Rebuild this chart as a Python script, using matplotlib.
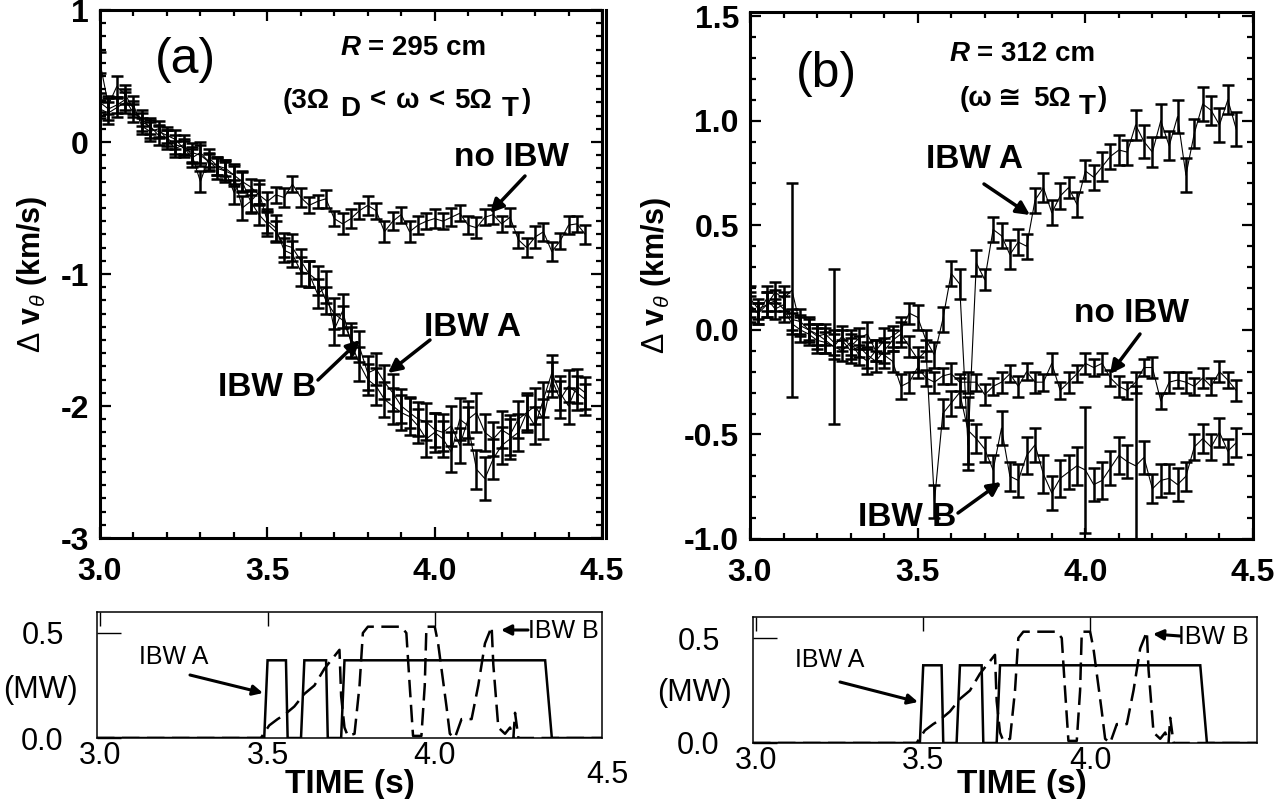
import matplotlib
matplotlib.use("Agg")
import matplotlib.pyplot as plt
import matplotlib.transforms as mtransforms
from matplotlib.ticker import MultipleLocator, FixedLocator

plt.rcParams['font.family'] = ['Liberation Sans', 'DejaVu Sans']
plt.rcParams['mathtext.fontset'] = 'custom'
plt.rcParams['mathtext.rm'] = 'Liberation Sans'
plt.rcParams['mathtext.bf'] = 'Liberation Sans:bold'
plt.rcParams['mathtext.it'] = 'Liberation Sans:italic'

# ---------------- data ----------------
time = [3.000, 3.025, 3.050, 3.075, 3.100, 3.125, 3.150, 3.175, 3.200, 3.225,
        3.250, 3.275, 3.300, 3.325, 3.350, 3.375, 3.400, 3.425, 3.450, 3.475,
        3.500, 3.525, 3.550, 3.575, 3.600, 3.625, 3.650, 3.675, 3.700, 3.725,
        3.750, 3.775, 3.800, 3.825, 3.850, 3.875, 3.900, 3.925, 3.950, 3.975,
        4.000, 4.025, 4.050, 4.075, 4.100, 4.125, 4.150, 4.175, 4.200, 4.225,
        4.250, 4.275, 4.300, 4.325, 4.350, 4.375, 4.400, 4.425, 4.450]

# panel (a)  R = 295 cm
a_noibw = [0.30, 0.25, 0.28, 0.32, 0.22, 0.18, 0.10, 0.08, 0.05, 0.02,
           -0.05, -0.08, -0.10, -0.15, -0.18, -0.20, -0.25, -0.30, -0.34, -0.40,
           -0.45, -0.40, -0.42, -0.32, -0.42, -0.48, -0.45, -0.43, -0.58, -0.62,
           -0.58, -0.52, -0.48, -0.52, -0.68, -0.60, -0.55, -0.68, -0.63, -0.60,
           -0.58, -0.60, -0.57, -0.54, -0.63, -0.65, -0.57, -0.55, -0.62, -0.57,
           -0.74, -0.80, -0.72, -0.68, -0.83, -0.75, -0.63, -0.62, -0.70]
a_noibw_err = [0.07, 0.08, 0.06, 0.08, 0.07, 0.06, 0.07, 0.05, 0.06, 0.07,
               0.06, 0.07, 0.08, 0.06, 0.07, 0.06, 0.08, 0.07, 0.06, 0.08,
               0.07, 0.06, 0.07, 0.06, 0.07, 0.06, 0.05, 0.07, 0.06, 0.08,
               0.07, 0.06, 0.07, 0.06, 0.08, 0.07, 0.06, 0.08, 0.07, 0.06,
               0.07, 0.06, 0.07, 0.06, 0.07, 0.08, 0.06, 0.07, 0.06, 0.07,
               0.06, 0.07, 0.08, 0.07, 0.07, 0.06, 0.07, 0.06, 0.07]
a_ibwA = [0.60, 0.28, 0.42, 0.36, 0.25, 0.15, 0.12, 0.05, 0.03, -0.02,
          -0.04, -0.12, -0.08, -0.15, -0.20, -0.22, -0.38, -0.30, -0.45, -0.55,
          -0.62, -0.68, -0.78, -0.80, -0.90, -1.00, -1.05, -1.20, -1.30, -1.35,
          -1.50, -1.55, -1.75, -1.72, -1.82, -1.90, -2.00, -2.05, -2.10, -2.12,
          -2.18, -2.20, -2.15, -2.30, -2.10, -2.05, -2.20, -2.25, -2.18, -2.22,
          -2.10, -2.05, -2.00, -2.10, -1.80, -1.95, -1.85, -1.90, -1.95]
a_ibwA_err = [0.08, 0.07, 0.08, 0.07, 0.06, 0.07, 0.06, 0.07, 0.06, 0.07,
              0.06, 0.07, 0.08, 0.07, 0.08, 0.07, 0.09, 0.08, 0.09, 0.08,
              0.09, 0.08, 0.09, 0.10, 0.09, 0.10, 0.11, 0.10, 0.12, 0.11,
              0.13, 0.12, 0.13, 0.12, 0.13, 0.14, 0.13, 0.12, 0.13, 0.14,
              0.13, 0.14, 0.15, 0.13, 0.14, 0.15, 0.14, 0.13, 0.14, 0.15,
              0.14, 0.13, 0.14, 0.15, 0.13, 0.14, 0.12, 0.13, 0.12]
a_ibwB = [0.25, 0.22, 0.26, 0.30, 0.28, 0.12, 0.08, 0.10, 0.02, -0.05,
          -0.02, -0.10, -0.30, -0.12, -0.18, -0.22, -0.25, -0.50, -0.45, -0.38,
          -0.60, -0.65, -0.82, -0.85, -0.98, -1.00, -1.15, -1.10, -1.42, -1.28,
          -1.52, -1.68, -1.80, -1.85, -1.95, -2.00, -2.05, -2.08, -2.15, -2.25,
          -2.20, -2.25, -2.35, -2.10, -2.15, -2.48, -2.55, -2.40, -2.30, -2.25,
          -2.20, -2.05, -2.15, -1.95, -1.75, -1.90, -2.00, -1.85, -1.90]
a_ibwB_err = [0.07, 0.08, 0.07, 0.08, 0.07, 0.06, 0.07, 0.06, 0.07, 0.06,
              0.07, 0.06, 0.08, 0.07, 0.07, 0.08, 0.07, 0.09, 0.08, 0.09,
              0.09, 0.10, 0.09, 0.10, 0.11, 0.10, 0.11, 0.12, 0.12, 0.13,
              0.12, 0.13, 0.12, 0.14, 0.13, 0.14, 0.13, 0.14, 0.13, 0.14,
              0.15, 0.14, 0.15, 0.16, 0.14, 0.15, 0.16, 0.15, 0.14, 0.15,
              0.14, 0.15, 0.14, 0.13, 0.14, 0.13, 0.14, 0.13, 0.12]

# panel (b)  R = 312 cm
b_noibw = [0.10, 0.08, 0.12, 0.14, 0.10, 0.03, 0.00, -0.02, -0.05, -0.06,
           -0.08, -0.10, -0.06, -0.12, -0.15, -0.10, -0.12, -0.15, -0.27, -0.25,
           -0.18, -0.23, -0.25, -0.22, -0.21, -0.25, -0.25, -0.25, -0.31, -0.27,
           -0.25, -0.21, -0.27, -0.20, -0.25, -0.25, -0.16, -0.29, -0.25, -0.21,
           -0.16, -0.18, -0.16, -0.23, -0.27, -0.29, -0.25, -0.18, -0.18, -0.34,
           -0.25, -0.24, -0.25, -0.27, -0.23, -0.27, -0.20, -0.24, -0.29]
b_noibw_err = [0.06, 0.05, 0.06, 0.05, 0.06, 0.05, 0.06, 0.05, 0.06, 0.05,
               0.06, 0.05, 0.06, 0.05, 0.06, 0.05, 0.06, 0.05, 0.06, 0.05,
               0.05, 0.04, 0.05, 0.04, 0.05, 0.04, 0.05, 0.04, 0.05, 0.04,
               0.05, 0.04, 0.05, 0.04, 0.05, 0.04, 0.05, 0.04, 0.05, 0.04,
               0.05, 0.04, 0.05, 0.04, 0.05, 0.04, 0.05, 0.04, 0.05, 0.04,
               0.05, 0.04, 0.05, 0.04, 0.05, 0.04, 0.05, 0.04, 0.05]
b_ibwA = [0.15, 0.10, 0.12, 0.18, 0.15, 0.19, 0.02, 0.00, -0.02, -0.05,
          -0.08, -0.03, -0.08, -0.04, -0.02, -0.10, -0.05, -0.03, 0.00, 0.08,
          0.06, -0.05, -0.12, 0.05, 0.27, 0.22, -0.55, 0.32, 0.24, 0.48,
          0.45, 0.36, 0.42, 0.40, 0.62, 0.68, 0.56, 0.64, 0.68, 0.60,
          0.76, 0.73, 0.78, 0.83, 0.86, 0.85, 0.98, 0.90, 0.85, 1.00,
          0.88, 1.02, 0.74, 0.94, 1.08, 1.05, 0.98, 1.10, 0.96]
b_ibwA_err = [0.06, 0.05, 0.06, 0.05, 0.06, 0.51, 0.05, 0.06, 0.05, 0.06,
              0.37, 0.05, 0.06, 0.05, 0.06, 0.05, 0.06, 0.05, 0.06, 0.05,
              0.06, 0.05, 0.06, 0.06, 0.06, 0.07, 0.12, 0.06, 0.05, 0.06,
              0.06, 0.07, 0.06, 0.06, 0.06, 0.07, 0.06, 0.06, 0.05, 0.06,
              0.05, 0.06, 0.07, 0.06, 0.07, 0.06, 0.07, 0.08, 0.07, 0.08,
              0.07, 0.08, 0.08, 0.07, 0.08, 0.07, 0.08, 0.07, 0.08]
b_ibwB = [0.12, 0.08, 0.15, 0.10, 0.12, 0.05, 0.04, 0.00, -0.03, -0.02,
          -0.06, -0.05, -0.10, -0.08, -0.12, -0.15, -0.10, -0.05, -0.02, -0.08,
          -0.14, -0.10, -0.82, -0.40, -0.35, -0.30, -0.48, -0.52, -0.57, -0.67,
          -0.47, -0.70, -0.72, -0.60, -0.55, -0.69, -0.78, -0.71, -0.68, -0.65,
          -0.67, -0.74, -0.72, -0.66, -0.60, -0.63, -0.65, -0.61, -0.76, -0.72,
          -0.71, -0.74, -0.70, -0.56, -0.52, -0.56, -0.49, -0.58, -0.54]
b_ibwB_err = [0.06, 0.05, 0.06, 0.05, 0.06, 0.05, 0.06, 0.05, 0.06, 0.05,
              0.06, 0.05, 0.06, 0.05, 0.06, 0.05, 0.06, 0.05, 0.06, 0.05,
              0.06, 0.05, 0.08, 0.07, 0.06, 0.07, 0.16, 0.07, 0.06, 0.07,
              0.08, 0.07, 0.08, 0.09, 0.08, 0.09, 0.08, 0.09, 0.08, 0.09,
              0.30, 0.08, 0.09, 0.08, 0.09, 0.08, 0.38, 0.08, 0.07, 0.08,
              0.07, 0.08, 0.07, 0.06, 0.07, 0.06, 0.07, 0.06, 0.07]

# RF power waveforms (MW)
pA_t = [2.99, 3.49, 3.50, 3.555, 3.56, 3.60, 3.61, 3.675, 3.68, 3.72, 3.73, 4.33, 4.35, 4.50]
pA_p = [0.00, 0.00, 0.37, 0.37, 0.00, 0.00, 0.37, 0.37, 0.00, 0.00, 0.37, 0.37, 0.00, 0.00]
pB_t = [2.99, 3.48, 3.505, 3.53, 3.55, 3.58, 3.61, 3.64, 3.67, 3.715, 3.72, 3.73, 3.74,
        3.76, 3.775, 3.785, 3.80, 3.90, 3.915, 3.925, 3.935, 3.96, 3.97, 3.975, 4.00,
        4.01, 4.035, 4.045, 4.06, 4.08, 4.11, 4.13, 4.15, 4.17, 4.175, 4.19, 4.21,
        4.225, 4.235, 4.24, 4.25, 4.50]
pB_p = [0.00, 0.00, 0.06, 0.09, 0.11, 0.15, 0.21, 0.25, 0.33, 0.42, 0.20, 0.05, 0.01,
        0.02, 0.25, 0.50, 0.53, 0.53, 0.50, 0.25, 0.01, 0.01, 0.25, 0.53, 0.53,
        0.45, 0.15, 0.02, 0.00, 0.09, 0.09, 0.25, 0.45, 0.53, 0.35, 0.05, 0.02,
        0.05, 0.00, 0.12, 0.00, 0.00]

xticks_main = [3.0, 3.5, 4.0, 4.5]
xtick_labels_main = ['3.0', '3.5', '4.0', '4.5']
a_yticks = [-3, -2, -1, 0, 1]
a_ytick_labels = ['-3', '-2', '-1', '0', '1']
b_yticks = [-1.0, -0.5, 0.0, 0.5, 1.0, 1.5]
b_ytick_labels = ['-1.0', '-0.5', '0.0', '0.5', '1.0', '1.5']
p_xticks = [3.0, 3.5, 4.0]
p_xtick_labels = ['3.0', '3.5', '4.0']
p_yticks = [0.0, 0.5]
p_ytick_labels = ['0.0', '0.5']

# ---------------- figure ----------------
W, H = 1281, 799
fig = plt.figure(figsize=(W / 100, H / 100), dpi=100)


def rect(l, t, r, b):
    return [l / W, 1 - b / H, (r - l) / W, (b - t) / H]


def fp(x, y):
    return (x, H - y)


axA = fig.add_axes(rect(100, 10, 602, 538))
axB = fig.add_axes(rect(750, 12, 1253, 539))
pwA = fig.add_axes(rect(97, 612, 602, 738))
pwB = fig.add_axes(rect(753, 617, 1257, 743))
for ax in (axA, axB, pwA, pwB):
    ax.set_facecolor('none')

ebkw = dict(color='black', lw=0.8, elinewidth=1.8, capsize=4.5, capthick=1.8)
shift = mtransforms.ScaledTranslation(12 / 100, 0, fig.dpi_scale_trans)

for ax, series, ylim, yt, ytl in [
        (axA, [(a_noibw, a_noibw_err), (a_ibwA, a_ibwA_err), (a_ibwB, a_ibwB_err)],
         (-3, 1), a_yticks, a_ytick_labels),
        (axB, [(b_noibw, b_noibw_err), (b_ibwA, b_ibwA_err), (b_ibwB, b_ibwB_err)],
         (-1.0, 1.52), b_yticks, b_ytick_labels)]:
    for vals, errs in series:
        ax.errorbar(time, vals, yerr=errs, **ebkw)
    ax.set_xlim(3.0, 4.5)
    ax.set_ylim(*ylim)
    ax.set_xticks(xticks_main)
    ax.set_xticklabels(xtick_labels_main, fontsize=23, fontweight='bold')
    for lab in ax.get_xticklabels():
        lab.set_transform(lab.get_transform() + shift)
    ax.set_yticks(yt)
    ax.set_yticklabels(ytl, fontsize=23, fontweight='bold')
    ax.xaxis.set_minor_locator(MultipleLocator(0.1))
    ax.yaxis.set_minor_locator(MultipleLocator(0.1))
    ax.tick_params(which='both', direction='in', top=True, right=True, width=1.6)
    ax.tick_params(which='major', length=8)
    ax.tick_params(which='minor', length=4.5)
    ax.tick_params(axis='x', pad=14)
    ax.tick_params(axis='y', pad=8)
    for sp in ax.spines.values():
        sp.set_linewidth(2.2)

# double right border of panel (a)
axA.plot([1.007, 1.007], [0, 1], transform=axA.transAxes, color='black',
         lw=2.2, clip_on=False)

ylab = r'$\Delta\ \mathbf{v}_{\theta}$ (km/s)'
axA.set_ylabel(ylab, fontsize=22, fontweight='bold', labelpad=8)
axB.set_ylabel(ylab, fontsize=22, fontweight='bold', labelpad=8)

# panel labels
fig.text(185 / W, 1 - 60 / H, '(a)', fontsize=36, ha='center', va='center')
fig.text(826 / W, 1 - 74 / H, '(b)', fontsize=36, ha='center', va='center')


def chain(ax, x, y, pieces, size=20):
    """pieces: (text, dx_pt, dy_pt, style)"""
    s0, _, _, st0 = pieces[0]
    t = fig.text(x / W, 1 - y / H, s0, fontsize=size, fontweight='bold',
                 style=st0, ha='left', va='baseline')
    for s, dx, dy, st in pieces[1:]:
        t = ax.annotate(s, xy=(1, 0), xycoords=t, xytext=(dx, dy),
                        textcoords='offset points', fontsize=size, style=st,
                        fontweight='bold', ha='left', va='bottom',
                        annotation_clip=False)
    return t


n = 'normal'
chain(axA, 341, 55, [('R', 0, 0, 'italic'), ('= 295 cm', 5, 0, n)])
chain(axA, 283, 108, [('(3\u03a9', 0, 0, n), ('D', 7, -6, n), ('<', 7, 6, n),
                      ('\u03c9', 7, 0, n), ('<', 7, 0, n), ('5\u03a9', 7, 0, n),
                      ('T', 7, -6, n), (')', 2, 6, n)])
chain(axB, 950, 61, [('R', 0, 0, 'italic'), ('= 312 cm', 5, 0, n)])
chain(axB, 960, 106, [('(\u03c9', 0, 0, n), ('\u2245', 4, 0, n), ('5\u03a9', 8, 0, n),
                      ('T', 6, -6, n), (')', 2, 6, n)])

arrow = dict(arrowstyle='-|>', color='black', lw=2.5, mutation_scale=20,
             shrinkA=0, shrinkB=0)


def label_arrow(ax, text, txy, tail, tip):
    fig.text(txy[0] / W, 1 - txy[1] / H, text, fontsize=24, fontweight='bold',
             ha='center', va='center')
    ax.annotate('', xy=fp(*tip), xycoords='figure pixels', xytext=fp(*tail),
                textcoords='figure pixels', arrowprops=arrow, annotation_clip=False)


label_arrow(axA, 'no IBW', (511, 157), (525, 176), (490, 213))
label_arrow(axA, 'IBW A', (472, 327), (430, 340), (388, 373))
label_arrow(axA, 'IBW B', (267, 388), (318, 380), (360, 340))
label_arrow(axB, 'IBW A', (975, 160), (984, 184), (1030, 215))
label_arrow(axB, 'no IBW', (1131, 313), (1140, 334), (1110, 374))
label_arrow(axB, 'IBW B', (907, 518), (958, 513), (1001, 482))

# ---------------- power panels ----------------
small_arrow = dict(arrowstyle='-|>', color='black', lw=2.2, mutation_scale=15,
                   shrinkA=0, shrinkB=0)
for ax, labpos in [
        (pwA, dict(a_txt=(174, 657), a_tail=(190, 675), a_tip=(263, 693),
                   b_txt=(563, 631), b_tail=(528, 630), b_tip=(501, 630),
                   mw=(40, 690), time=(350, 785))),
        (pwB, dict(a_txt=(830, 660), a_tail=(840, 682), a_tip=(918, 702),
                   b_txt=(1213, 637), b_tail=(1180, 636), b_tip=(1153, 634),
                   mw=(694, 693), time=(1022, 785)))]:
    ax.plot(pA_t, pA_p, color='black', lw=1.8, solid_joinstyle='miter')
    ax.plot(pB_t, pB_p, color='black', lw=1.8, dashes=(7, 3))
    ax.set_xlim(2.99, 4.50)
    ax.set_ylim(0, 0.60)
    ax.xaxis.set_major_locator(FixedLocator(p_xticks))
    ax.set_xticklabels(p_xtick_labels, fontsize=22)
    ax.yaxis.set_major_locator(FixedLocator(p_yticks))
    ax.set_yticklabels(p_ytick_labels, fontsize=22)
    ax.tick_params(axis='x', direction='in', top=True, bottom=False, length=10,
                   width=1.0, pad=2)
    ax.tick_params(axis='y', direction='in', left=True, right=False, length=17,
                   width=1.0, pad=24)
    for sp in ax.spines.values():
        sp.set_linewidth(1.1)
    fig.text(labpos['mw'][0] / W, 1 - labpos['mw'][1] / H, '(MW)', fontsize=22,
             ha='center', va='center')
    fig.text(labpos['time'][0] / W, 1 - labpos['time'][1] / H, 'TIME (s)',
             fontsize=24, fontweight='bold', ha='center', va='center')
    fig.text(labpos['a_txt'][0] / W, 1 - labpos['a_txt'][1] / H, 'IBW A',
             fontsize=18, ha='center', va='center')
    fig.text(labpos['b_txt'][0] / W, 1 - labpos['b_txt'][1] / H, 'IBW B',
             fontsize=18, ha='center', va='center')
    ax.annotate('', xy=fp(*labpos['a_tip']), xycoords='figure pixels',
                xytext=fp(*labpos['a_tail']), textcoords='figure pixels',
                arrowprops=small_arrow, annotation_clip=False)
    ax.annotate('', xy=fp(*labpos['b_tip']), xycoords='figure pixels',
                xytext=fp(*labpos['b_tail']), textcoords='figure pixels',
                arrowprops=small_arrow, annotation_clip=False)

fig.text(607 / W, 1 - 775 / H, '4.5', fontsize=22, ha='center', va='center')

fig.savefig('out.png', dpi=100)
